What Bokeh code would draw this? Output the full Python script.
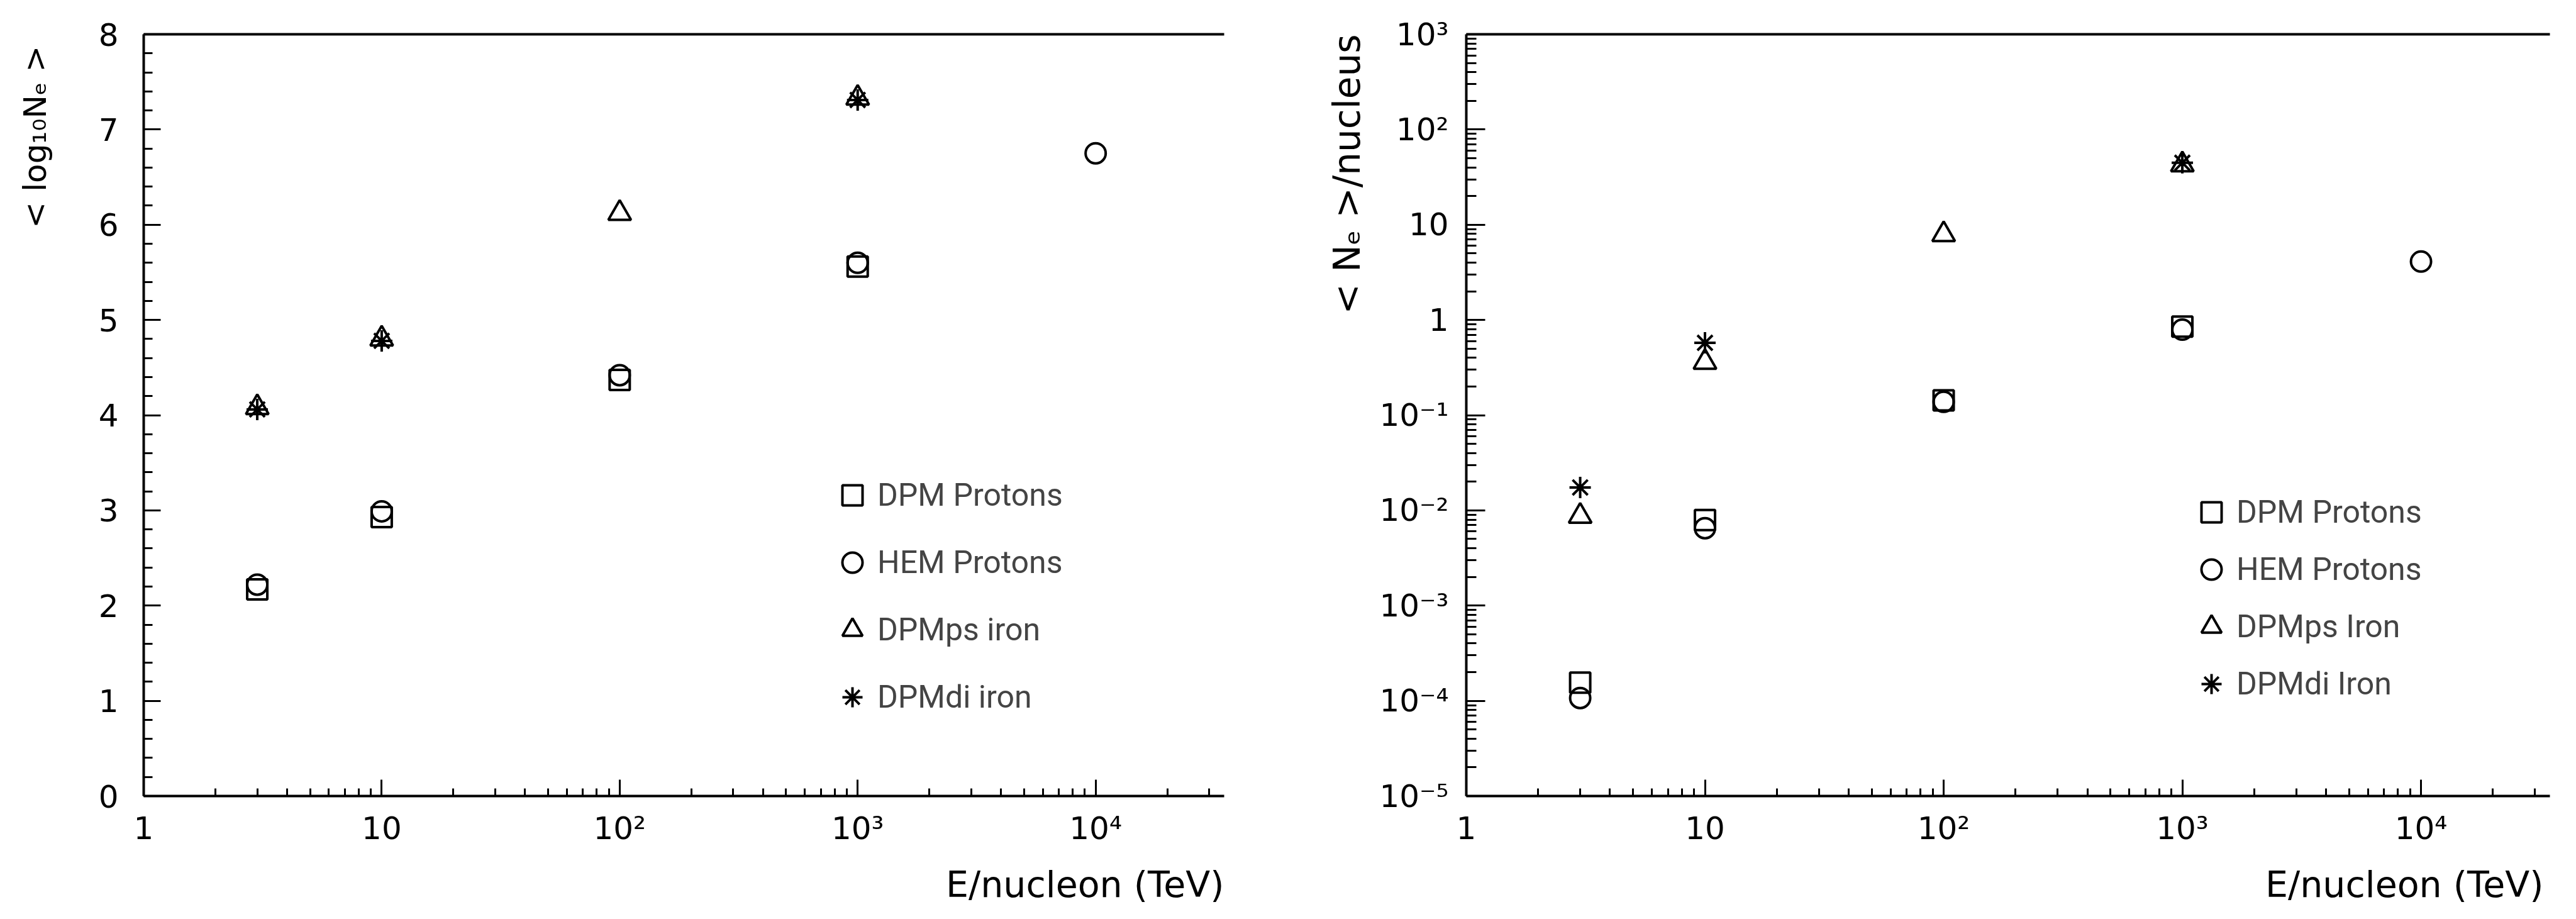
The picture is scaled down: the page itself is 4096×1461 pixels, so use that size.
import numpy as np
from bokeh.plotting import figure
from bokeh.models import Range1d, FixedTicker, LinearAxis, Legend, LegendItem, Title
from bokeh.layouts import row
from bokeh.embed import file_html
from bokeh.resources import INLINE

# ---------------- data ----------------
# energy per nucleon (TeV)
e_dpm_protons = [3, 10, 100, 1000]
e_hem_protons = [3, 10, 100, 1000, 10000]
e_dpmps_iron = [3, 10, 100, 1000]
e_dpmdi_iron = [3, 10, 1000]

# left panel: < log10 Ne >
left_dpm_protons = [2.17, 2.93, 4.37, 5.56]
left_hem_protons = [2.22, 2.99, 4.42, 5.60, 6.75]
left_dpmps_iron = [4.08, 4.80, 6.12, 7.33]
left_dpmdi_iron = [4.06, 4.78, 7.31]

# right panel: < Ne > / nucleus
right_dpm_protons = [1.55e-4, 7.9e-3, 0.143, 0.85]
right_hem_protons = [1.07e-4, 6.5e-3, 0.138, 0.79, 4.1]
right_dpmps_iron = [8.7e-3, 0.36, 7.9, 42.7]
right_dpmdi_iron = [0.0174, 0.575, 44.7]

left_series_names = ["DPM Protons", "HEM Protons", "DPMps iron", "DPMdi iron"]
right_series_names = ["DPM Protons", "HEM Protons", "DPMps Iron", "DPMdi Iron"]

x_tick_values = [1, 10, 100, 1000, 10000]
x_tick_labels = ["1", "10", "10²", "10³", "10⁴"]
left_y_ticks = [0, 1, 2, 3, 4, 5, 6, 7, 8]
left_y_labels = ["0", "1", "2", "3", "4", "5", "6", "7", "8"]
right_y_ticks = [1e-5, 1e-4, 1e-3, 1e-2, 1e-1, 1, 10, 100, 1000]
right_y_labels = ["10⁻⁵", "10⁻⁴", "10⁻³", "10⁻²", "10⁻¹", "1", "10", "10²", "10³"]

x_title = "E/nucleon (TeV)"
left_y_title = "< log₁₀Nₑ >"
right_y_title = "< Nₑ >/nucleus"

# ---------------- styling ----------------
FONT = "DejaVu Sans"
LEGEND_FONT = "Roboto"
X_END = 10 ** 4.54
W1 = 2090
H = 1461

x_minor = [k * 10.0 ** d for d in range(0, 5) for k in range(2, 10) if k * 10.0 ** d < X_END]
left_y_minor = [round(v * 0.2, 2) for v in range(0, 41)]
right_y_minor = [k * 10.0 ** d for d in range(-5, 3) for k in range(2, 10)]


def style_axis(ax, tin, tmin, standoff):
    ax.axis_line_width = 4
    ax.axis_line_color = "black"
    ax.major_tick_line_width = 3
    ax.minor_tick_line_width = 3
    ax.major_tick_in = tin
    ax.major_tick_out = 0
    ax.minor_tick_in = tmin
    ax.minor_tick_out = 0
    ax.major_label_text_font = FONT
    ax.major_label_text_font_size = "50px"
    ax.major_label_text_color = "black"
    ax.major_label_standoff = standoff


def make_panel(width, mb_left, mb_right, mb_top, mb_bottom, y_range, y_type,
               y_ticks, y_labels, y_minor, y_tin, y_tmin, y_standoff):
    p = figure(width=width, height=H, x_axis_type="log", y_axis_type=y_type,
               x_range=Range1d(1, X_END), y_range=y_range,
               output_backend="svg", toolbar_location=None,
               min_border_left=mb_left, min_border_right=mb_right,
               min_border_top=mb_top, min_border_bottom=mb_bottom)
    p.outline_line_color = None
    p.xgrid.visible = False
    p.ygrid.visible = False
    p.background_fill_color = "white"
    p.border_fill_color = "white"

    xa = p.xaxis[0]
    xa.ticker = FixedTicker(ticks=x_tick_values, minor_ticks=x_minor)
    xa.major_label_overrides = {float(v): l for v, l in zip(x_tick_values, x_tick_labels)}
    style_axis(xa, 26, 12, 22)

    ya = p.yaxis[0]
    ya.ticker = FixedTicker(ticks=y_ticks, minor_ticks=y_minor)
    ya.major_label_overrides = {float(v): l for v, l in zip(y_ticks, y_labels)}
    style_axis(ya, y_tin, y_tmin, y_standoff)

    top = LinearAxis(ticker=FixedTicker(ticks=[]), axis_line_width=4,
                     axis_line_color="black",
                     major_label_text_font_size="0px",
                     major_tick_line_color=None, minor_tick_line_color=None)
    p.add_layout(top, "above")
    return p


def add_series(p, ys, names):
    xs = [e_dpm_protons, e_hem_protons, e_dpmps_iron, e_dpmdi_iron]
    markers = ["square", "circle", "triangle", "asterisk"]
    sizes = [32, 32, 36, 34]
    rs = []
    for x, y, m, s in zip(xs, ys, markers, sizes):
        r = p.scatter(x, y, marker=m, size=s, fill_color=None,
                      line_color="black", line_width=4)
        rs.append(r)
    return [LegendItem(label=n, renderers=[r]) for n, r in zip(names, rs)]


def add_titles(p, ytitle, y_standoff, y_offset, x_offset, ysize):
    p.add_layout(Title(text=ytitle, align="right", offset=y_offset, standoff=y_standoff,
                       text_font=FONT, text_font_size=ysize, text_font_style="normal",
                       text_color="black"), "left")
    p.add_layout(Title(text=x_title, align="right", offset=x_offset, standoff=44,
                       text_font=FONT, text_font_size="57px", text_font_style="normal",
                       text_color="black"), "below")


# ---------------- left panel ----------------
p1 = make_panel(W1, 228, W1 - 1946, 52, H - 1265, Range1d(0, 8), "linear",
                left_y_ticks, left_y_labels, left_y_minor, 27, 14, 40)
items1 = add_series(p1, [left_dpm_protons, left_hem_protons, left_dpmps_iron, left_dpmdi_iron],
                    left_series_names)
leg1 = Legend(items=items1, location=(1087, 117), padding=0, margin=0, spacing=27,
              glyph_width=80, glyph_height=80, label_standoff=-4,
              label_text_font=LEGEND_FONT, label_text_font_size="50px",
              border_line_color=None, background_fill_alpha=0)
p1.add_layout(leg1)
# the blank second line keeps the title out near the page edge, as in the reference
add_titles(p1, left_y_title + "\n ", 22, 18, 0, "50px")

# ---------------- right panel ----------------
W2 = 4096 - W1
p2 = make_panel(W2, 2323 - W1, 4096 - 4054, 54, H - 1268, Range1d(1e-5, 1e3), "log",
                right_y_ticks, right_y_labels, right_y_minor, 30, 16, 28)
items2 = add_series(p2, [right_dpm_protons, right_hem_protons, right_dpmps_iron, right_dpmdi_iron],
                    right_series_names)
leg2 = Legend(items=items2, location=(1145, 138), padding=0, margin=0, spacing=11,
              glyph_width=80, glyph_height=80, label_standoff=-4,
              label_text_font=LEGEND_FONT, label_text_font_size="50px",
              border_line_color=None, background_fill_alpha=0)
p2.add_layout(leg2)
add_titles(p2, right_y_title, 30, 0, 10, "58px")

layout = row(p1, p2)
open("out.html", "w").write(file_html(layout, INLINE))
